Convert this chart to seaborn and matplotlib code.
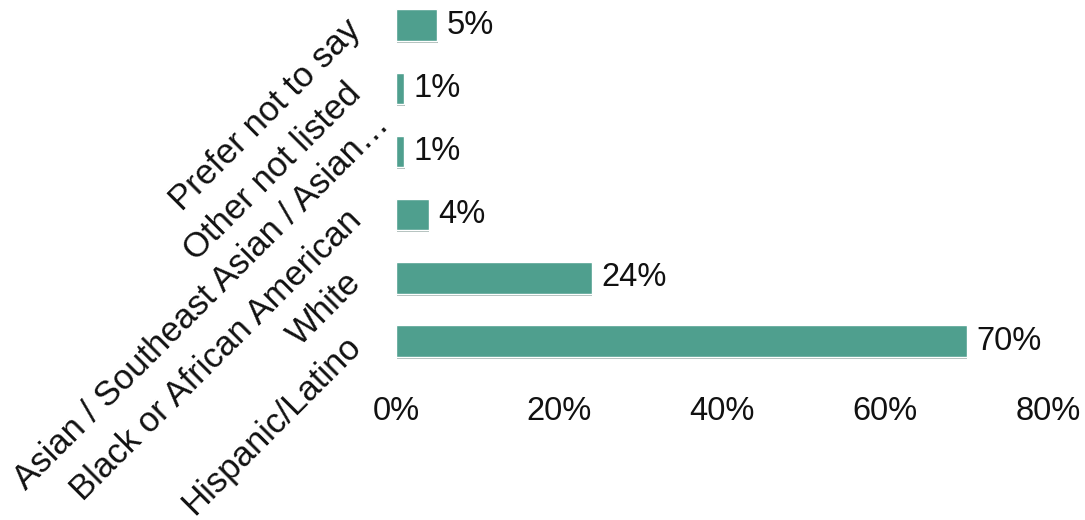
import matplotlib
matplotlib.use("Agg")
import matplotlib.pyplot as plt
import matplotlib.patheffects as pe
import seaborn as sns
import pandas as pd

# Survey response shares by race / ethnicity (percent)
categories = [
    "Prefer not to say",
    "Other not listed",
    "Asian / Southeast Asian / Asian\u2026",
    "Black or African American",
    "White",
    "Hispanic/Latino",
]
shares = [5, 1, 1, 4, 24, 70]
x_ticks = [0, 20, 40, 60, 80]
x_tick_labels = ["0%", "20%", "40%", "60%", "80%"]

BAR_COLOR = "#4f9f8e"
TEXT_COLOR = "#111111"

sns.set_theme(style="white")
plt.rcParams["font.family"] = ["Liberation Sans", "DejaVu Sans"]

df = pd.DataFrame({"group": categories, "share": shares})

fig = plt.figure(figsize=(10.85, 5.2), dpi=100)
ax = fig.add_axes([0.365, 0.2835, 0.6009, 0.7165])

sns.barplot(data=df, x="share", y="group", orient="h", color=BAR_COLOR,
            saturation=1, width=0.5, ax=ax)

for patch in ax.patches:
    patch.set_path_effects([
        pe.SimplePatchShadow(offset=(0.6, -1.4), shadow_rgbFace="#3a5f55", alpha=0.45),
        pe.Normal(),
    ])

ax.set_xlim(0, 80)
ax.set_ylim(5.5, -0.4)
ax.set_xticks(x_ticks)
ax.set_xticklabels(x_tick_labels, fontsize=23.5, color=TEXT_COLOR)
ax.tick_params(axis="x", length=0, pad=17)
ax.set_yticks(range(len(categories)))
ax.set_yticklabels([])
ax.tick_params(axis="y", length=0)
ax.set_xlabel("")
ax.set_ylabel("")
for spine in ax.spines.values():
    spine.set_visible(False)
ax.grid(False)

# Slanted category labels; the truncated one sits a little further out
extra_shift = {2: (28, 32)}
for i, name in enumerate(categories):
    dx, dy = extra_shift.get(i, (0, 0))
    ax.annotate(name, xy=(0, i), xycoords=("axes fraction", "data"),
                xytext=(-40 + dx, dy), textcoords="offset pixels",
                rotation=45, ha="right", va="center", rotation_mode="anchor",
                fontsize=25, color=TEXT_COLOR, annotation_clip=False)

ax.bar_label(ax.containers[0], labels=[f"{v}%" for v in shares],
             padding=7, fontsize=23.5, color=TEXT_COLOR)

fig.savefig("out.png", dpi=100, facecolor="white")
